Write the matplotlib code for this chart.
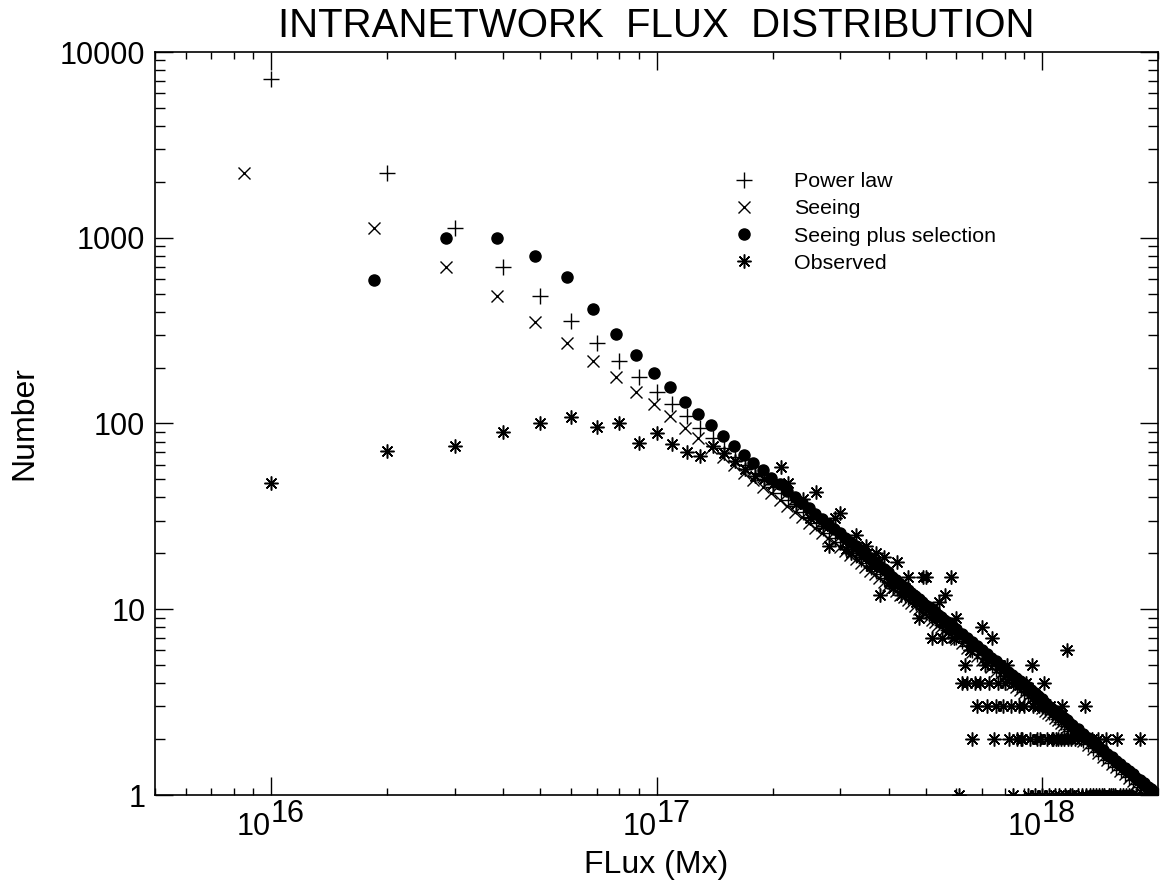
import matplotlib
matplotlib.use("Agg")
import numpy as np
import matplotlib.pyplot as plt
import matplotlib.transforms as mtransforms
from matplotlib.lines import Line2D
from matplotlib.ticker import FixedLocator, FixedFormatter, LogLocator, NullFormatter

plt.rcParams['font.family'] = ['Liberation Sans', 'DejaVu Sans']

UNIT = 1e16          # flux bins are in units of 1e16 Mx
CONV_SHIFT = 0.15    # convolved curves sit a little left of the bin

# model flux bins (1e16 Mx)
bins = list(range(1, 61)) + list(range(62, 121, 2)) + list(range(124, 201, 4))

n_power = [7200, 2230, 1130, 700, 485, 355, 272, 217, 179, 148, 127, 110,
           94.4, 83.2, 74.1, 66.4, 60.0, 54.4, 49.7, 45.6, 42.0, 38.8, 36.0, 33.5,
           31.2, 29.2, 27.4, 25.8, 24.3, 23.0, 21.7, 20.6, 19.5, 18.6, 17.7, 16.9,
           16.1, 15.4, 14.7, 14.1,
           13.54, 13.0, 12.49, 12.0, 11.57, 11.15, 10.75, 10.4, 10.02, 9.68,
           9.37, 9.06, 8.78, 8.50, 8.24, 8.00, 7.76, 7.54, 7.32, 7.11,
           6.73, 6.38, 6.06, 5.76, 5.48, 5.23, 4.99, 4.77, 4.57, 4.38, 4.20, 4.03,
           3.87, 3.73, 3.59, 3.46, 3.33, 3.22, 3.11, 3.00, 2.90, 2.81, 2.72, 2.64,
           2.55, 2.48, 2.41, 2.34, 2.27, 2.21,
           2.09, 1.98, 1.88, 1.79, 1.70, 1.62, 1.55, 1.48, 1.42, 1.36, 1.30, 1.25,
           1.20, 1.15, 1.11, 1.07, 1.03, 1.00, 0.96, 0.93]

n_seeing = [2223, 1125, 699, 485, 353, 272, 217, 179, 148, 127, 110, 94, 84,
            74.1, 66.4, 60.0, 54.4, 49.7, 45.6, 42.0, 38.8, 36.0, 33.5, 31.2, 29.2,
            27.4, 25.8, 24.3, 23.0, 21.7, 20.6, 19.5, 18.6, 17.7, 16.9, 16.1, 15.4,
            14.7, 14.1, 13.5,
            13.0, 12.49, 12.0, 11.57, 11.15, 10.75, 10.4, 10.02, 9.68, 9.37,
            9.06, 8.78, 8.50, 8.24, 8.00, 7.76, 7.54, 7.32, 7.11, 6.91,
            6.55, 6.21, 5.91, 5.62, 5.36, 5.11, 4.88, 4.67, 4.47, 4.29, 4.11, 3.95,
            3.80, 3.66, 3.52, 3.40, 3.28, 3.16, 3.06, 2.95, 2.85, 2.76, 2.68, 2.60,
            2.52, 2.44, 2.37, 2.31, 2.24, 2.18,
            2.06, 1.96, 1.86, 1.77, 1.69, 1.61, 1.54, 1.47, 1.41, 1.35, 1.29, 1.24,
            1.19, 1.15, 1.10, 1.06, 1.02, 0.99, 0.95, 0.92]

# seeing plus selection starts at the second bin
n_select = [593, 1000, 1000, 800, 612, 412, 303, 234, 188, 157, 131, 112, 98,
            86, 76, 68, 61.5, 56, 51.1, 47.0, 43.5, 40.3, 37.5, 34.9, 32.7, 30.7,
            28.9, 27.2, 25.8, 24.3, 23.1, 21.8, 20.8, 19.8, 18.9, 18.0, 17.2, 16.5,
            15.8,
            14.9, 14.3, 13.7, 13.2, 12.7, 12.3, 11.8, 11.4, 11.0, 10.6,
            10.3, 9.97, 9.66, 9.35, 9.06, 8.80, 8.54, 8.29, 8.05, 7.82,
            7.40, 7.02, 6.67, 6.34, 6.03, 5.75, 5.49, 5.25, 5.03, 4.82, 4.62, 4.43,
            4.26, 4.10, 3.95, 3.81, 3.66, 3.54, 3.42, 3.30, 3.13, 3.03, 2.94, 2.85,
            2.75, 2.68, 2.60, 2.53, 2.45, 2.39,
            2.26, 2.14, 2.03, 1.93, 1.84, 1.75, 1.67, 1.60, 1.53, 1.47, 1.40, 1.35,
            1.30, 1.24, 1.20, 1.16, 1.11, 1.08, 1.04, 1.00]

obs_bins = list(range(1, 120)) + [120, 122, 124, 126, 127, 129, 130, 132, 133, 135,
            136, 138, 140, 141, 143, 145, 147, 149, 151, 153, 155, 157, 159, 162,
            165, 168, 171, 175, 180, 184, 190]
n_obs = [48, 71, 76, 90, 100, 109, 96, 101, 79, 89, 78, 70, 67, 76, 69,
         63, 57, 52, 50, 47, 58, 48, 37, 39, 31, 43, 28, 22, 31, 33,
         21, 20, 25, 19, 22, 17, 20, 12, 19, 14,
         13, 18, 12, 13, 15, 12, 11, 9, 15, 15,
         10, 7, 9, 11, 7, 12, 8, 15, 7, 9,
         1, 4, 5, 4, 6, 2, 4, 3, 4, 8,
         5, 3, 4, 7, 2, 3, 4, 5, 3, 4,
         5, 2, 3, 1, 4, 2, 3, 2, 2, 3,
         4, 1, 2, 5, 3, 1, 2, 3, 2, 1,
         4, 3, 2, 1, 3, 2, 2, 1, 2, 2,
         1, 2, 3, 2, 1, 6, 2, 1, 2,
         1, 2, 1, 2, 1, 3, 1, 2, 1, 2,
         1, 1, 2, 1, 1, 1, 2, 1, 1, 1,
         1, 2, 1, 1, 1, 1, 1, 1, 2, 1, 1]

labels = ["Power law", "Seeing", "Seeing plus selection", "Observed"]
y_ticks = [1, 10, 100, 1000, 10000]
x_exps = [16, 17, 18]

fig = plt.figure(figsize=(11.61, 8.80), dpi=100)
ax = fig.add_axes([155 / 1161, 85 / 880, 1003 / 1161, 743 / 880])

f_pl = np.array(bins) * UNIT
f_conv = (np.array(bins) - CONV_SHIFT) * UNIT
f_obs = np.array(obs_bins) * UNIT

asterisk = (8, 2, 0)
st_plus = dict(ls='none', marker='+', ms=11, mew=1.0, color='black')
st_x = dict(ls='none', marker='x', ms=9, mew=1.0, color='black')
st_dot = dict(ls='none', marker='o', ms=8, color='black')
st_obs = dict(ls='none', marker=asterisk, ms=10, mew=1.1, color='black')

ax.plot(f_pl, n_power, **st_plus)
ax.plot(f_conv, n_seeing, **st_x)
ax.plot(f_conv[1:], n_select, **st_dot)
ax.plot(f_obs, n_obs, **st_obs)

ax.set_xscale('log')
ax.set_yscale('log')
ax.set_xlim(5e15, 2e18)
ax.set_ylim(1, 10000)

ax.yaxis.set_major_locator(FixedLocator(y_ticks))
ax.yaxis.set_major_formatter(FixedFormatter([str(v) for v in y_ticks]))
ax.yaxis.set_minor_locator(LogLocator(base=10, subs=np.arange(2, 10), numticks=20))
ax.yaxis.set_minor_formatter(NullFormatter())
ax.xaxis.set_major_locator(FixedLocator([10.0 ** e for e in x_exps]))
ax.xaxis.set_major_formatter(NullFormatter())
ax.xaxis.set_minor_locator(LogLocator(base=10, subs=np.arange(2, 10), numticks=20))
ax.xaxis.set_minor_formatter(NullFormatter())

ax.tick_params(which='both', direction='in', top=True, right=True, width=1.0,
               labelsize=22, colors='black')
ax.tick_params(which='major', length=13, pad=7)
ax.tick_params(axis='y', which='minor', length=7)
ax.tick_params(axis='x', which='minor', length=5)
for s in ax.spines.values():
    s.set_linewidth(1.2)

# IDL style exponent labels: full size superscript right after the tick
for e in x_exps:
    ax.text(10.0 ** e, -40 / 743, "10", transform=ax.get_xaxis_transform(),
            ha='right', va='baseline', fontsize=22)
    ax.text(10.0 ** e, -27 / 743, str(e), transform=ax.get_xaxis_transform(),
            ha='left', va='baseline', fontsize=22)

ax.set_title("INTRANETWORK  FLUX  DISTRIBUTION", fontsize=29, pad=11)
ax.text(0.5, -78 / 743, "FLux (Mx)", transform=ax.transAxes, ha='center',
        va='baseline', fontsize=23)
ax.set_ylabel("Number", fontsize=23, labelpad=15)

handles = [Line2D([], [], **st_plus), Line2D([], [], **st_x),
           Line2D([], [], **st_dot), Line2D([], [], **st_obs)]
ax.legend(handles, labels, loc='upper left', bbox_to_anchor=(0.5766, 0.838),
          frameon=False, fontsize=15.4, handlelength=1.0, handletextpad=1.84,
          labelspacing=0.38, borderaxespad=0, borderpad=0)

fig.savefig("out.png", dpi=100)
